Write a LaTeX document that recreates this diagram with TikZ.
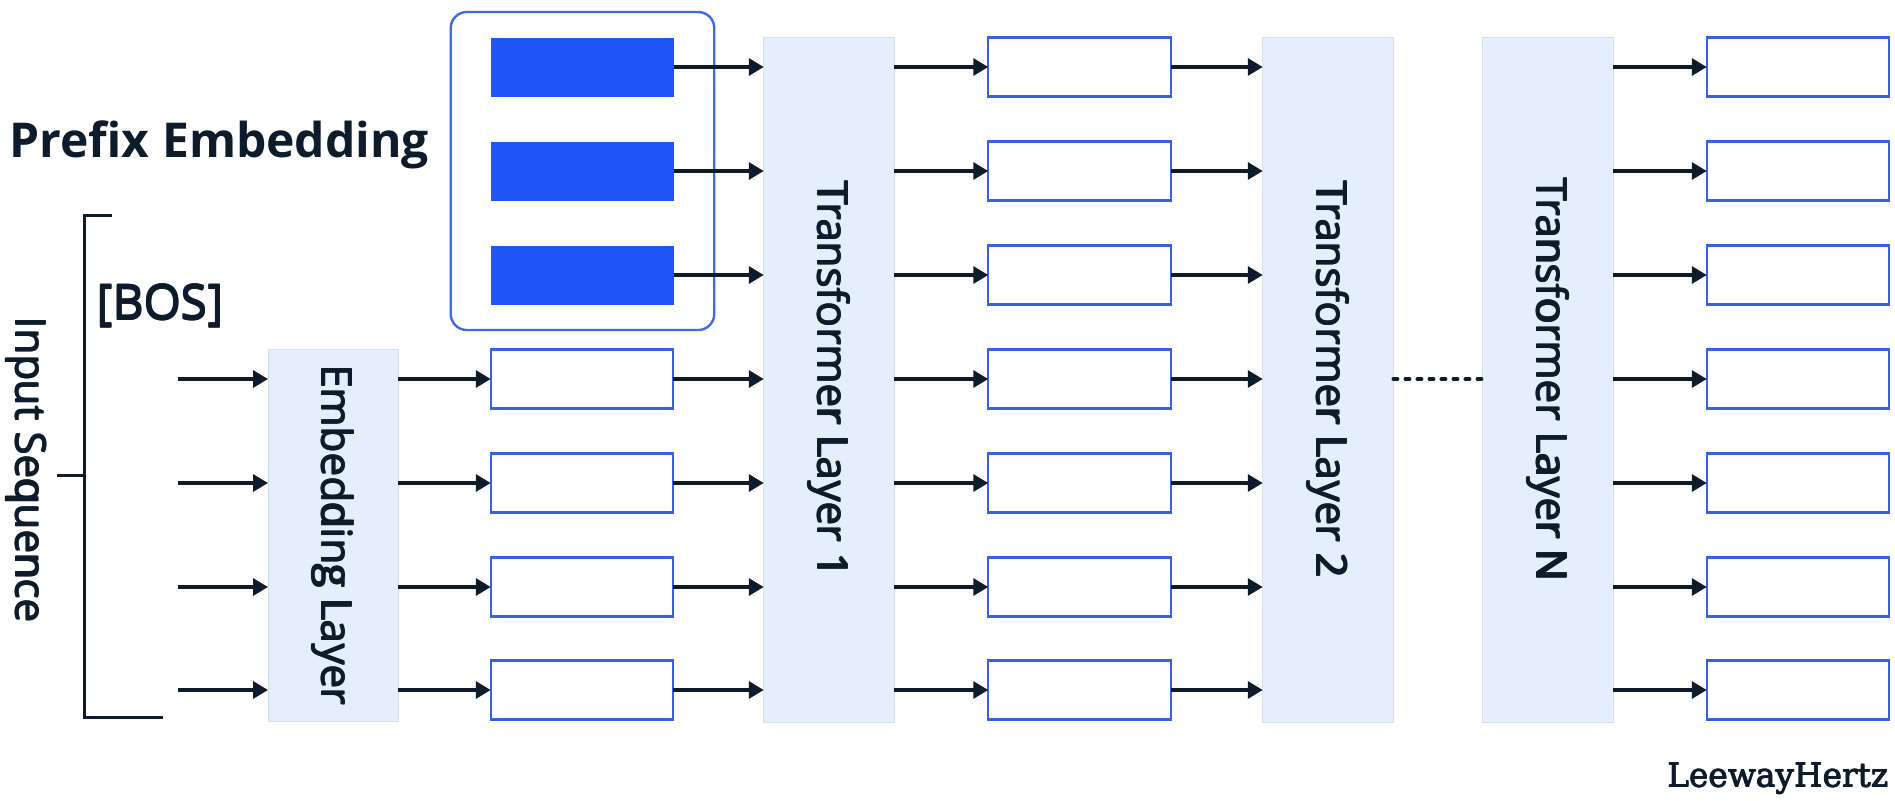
\documentclass[tikz,border=0pt]{standalone}
\usepackage{fontspec}
\setmainfont{Open Sans}
\newfontfamily\brandfont{DejaVu Serif}
\usetikzlibrary{arrows.meta}
% set a text four times, nudged by a small step, for a medium weight
\newcommand\heavytext[2][0.6pt]{%
  \makebox[0pt][l]{#2}%
  \makebox[0pt][l]{\raisebox{#1}{#2}}%
  \makebox[0pt][l]{\hspace{#1}\raisebox{#1}{#2}}%
  \hspace{#1}#2}
\definecolor{ink}{HTML}{0D1B2A}
\definecolor{prefblue}{HTML}{1E55F7}
\definecolor{boxblue}{HTML}{3862E3}
\definecolor{groupblue}{HTML}{3D6AE6}
\definecolor{layerfill}{HTML}{E4EEFC}
\definecolor{layerline}{HTML}{D6DFEC}
\tikzset{
  vec/.style={draw=boxblue, line width=1.1pt, fill=white, minimum width=91.25pt,
    minimum height=29.5pt, inner sep=0pt, outer sep=0pt},
  pvec/.style={fill=prefblue, minimum width=91.5pt, minimum height=29.5pt,
    inner sep=0pt, outer sep=0pt},
  layer/.style={fill=layerfill, draw=layerline, line width=0.5pt, inner sep=0pt,
    outer sep=0pt},
  tlayer/.style={layer, minimum width=65.25pt, minimum height=342.5pt},
  vlabel/.style={rotate=-90, font=\fontsize{21}{25}\selectfont, text=ink, inner sep=0pt},
  arr/.style={draw=ink, line width=1.65pt, -{Triangle[length=7.5pt,width=8.5pt]}},
  dots/.style={draw=ink, line width=1.75pt, line cap=round, dash pattern=on 2.2pt off 3.8pt},
  bracket/.style={draw=ink, line width=1.5pt},
}
\begin{document}
\begin{tikzpicture}[x=0.5pt, y=-0.5pt]
\useasboundingbox (0,0) rectangle (1895,800);

% layers
\node[layer, minimum width=65pt, minimum height=186pt] (emb) at (333,535.2) {};
\node[vlabel] (embtxt) at (emb) {\heavytext{Embedding Layer}};
\node[tlayer] (tl1) at (829,379.5) {};
\node[vlabel] (tl1txt) at (tl1) {\heavytext{Transformer Layer 1}};
\node[tlayer] (tl2) at (1328,379.5) {};
\node[vlabel] (tl2txt) at (tl2) {\heavytext{Transformer Layer 2}};
\node[tlayer] (tln) at (1548,379.5) {};
\node[vlabel] (tlntxt) at (tln) {\heavytext{Transformer Layer N}};

% prefix group
\node[draw=groupblue, line width=1.2pt, rounded corners=8pt, minimum width=131.75pt,
  minimum height=159pt, inner sep=0pt] (pgroup) at (582.5,171) {};
\node[pvec] (p1) at (582.5,67) {};
\node[pvec] (p2) at (582.5,171) {};
\node[pvec] (p3) at (582.5,275) {};

% embedded input vectors
\node[vec] (e4) at (582,379) {};
\node[vec] (e5) at (582,483) {};
\node[vec] (e6) at (582,587) {};
\node[vec] (e7) at (582,690) {};

% hidden states after layer 1 and outputs of layer N
\foreach \i/\y in {1/67,2/171,3/275,4/379,5/483,6/587,7/690}{
  \node[vec] (a\i) at (1079.5,\y) {};
  \node[vec] (c\i) at (1798,\y) {};
}

% input token arrows
\foreach \i/\y in {4/379,5/483,6/587,7/690}{
  \coordinate (in\i) at (177.7,\y);
  \draw[arr] (in\i) -- (in\i -| emb.west);
  \draw[arr] (emb.east |- e\i.west) -- (e\i.west);
  \draw[arr] (e\i.east) -- (e\i.east -| tl1.west);
}
\foreach \i in {1,2,3}{
  \draw[arr] (p\i.east) -- (p\i.east -| tl1.west);
}
\foreach \i in {1,...,7}{
  \draw[arr] (tl1.east |- a\i.west) -- (a\i.west);
  \draw[arr] (a\i.east) -- (a\i.east -| tl2.west);
  \draw[arr] (tln.east |- c\i.west) -- (c\i.west);
}
\draw[dots] (tl2.east |- e4.east) -- (tln.west |- e4.east);

% input bracket
\draw[bracket] (112,215) -- (84.6,215) -- (84.6,717) -- (163,717);
\draw[bracket] (57,475) -- (84.6,475);
\node[vlabel] (insq) at (26,470) {\heavytext{Input Sequence}};

% texts
\node[anchor=base west, inner sep=0pt, text=ink, font=\fontsize{24}{28}\selectfont\bfseries]
  (ptitle) at (9,157) {Prefix Embedding};
\node[anchor=base west, inner sep=0pt, text=ink, font=\fontsize{24}{28}\selectfont]
  (bos) at (96,320) {\heavytext{[BOS]}};
\node[anchor=base east, inner sep=0pt, text=ink, font=\fontsize{16.4}{20}\brandfont]
  (brand) at (1889,787) {\heavytext[0.35pt]{LeewayHertz}};
\end{tikzpicture}
\end{document}
